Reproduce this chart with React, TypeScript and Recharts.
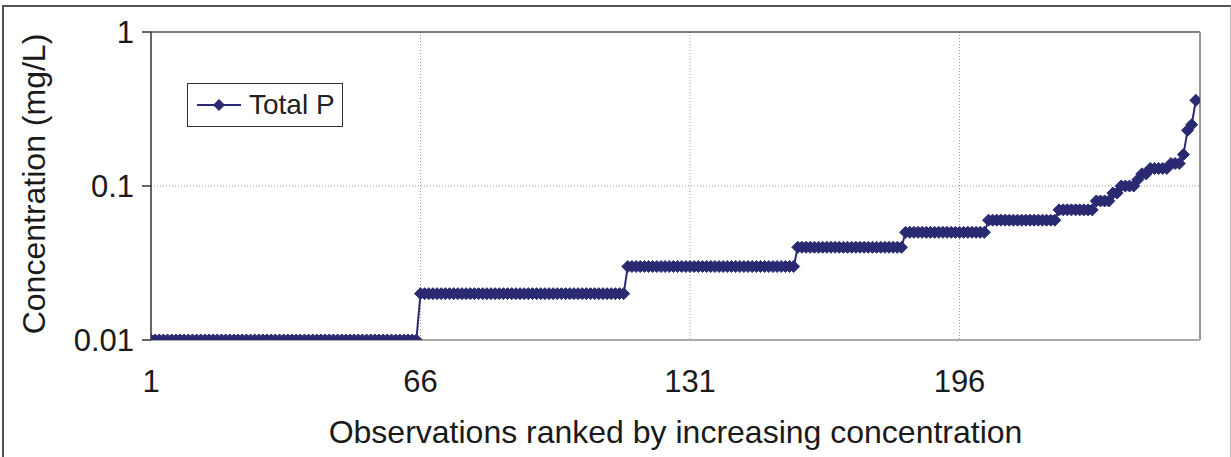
import React from "react";
import { LineChart, Line, XAxis, YAxis, CartesianGrid, ReferenceLine, Legend } from "recharts";

// Sorted Total P concentrations (mg/L), read as runs of equal values
const stepValues = [0.01, 0.02, 0.03, 0.04, 0.05, 0.06, 0.07, 0.08, 0.09, 0.1, 0.11, 0.12, 0.13, 0.14, 0.16, 0.23, 0.25, 0.36];
const stepCounts = [65, 50, 41, 26, 20, 17, 9, 4, 2, 4, 1, 2, 5, 3, 1, 1, 1, 1];

const xTicks = [1, 66, 131, 196];
const yTicks = [0.01, 0.1, 1];
const seriesName = "Total P";
const xTitle = "Observations ranked by increasing concentration";
const yTitle = "Concentration (mg/L)";

const data: { obs: number; tp: number }[] = [];
stepValues.forEach((v, i) => {
  for (let k = 0; k < stepCounts[i]; k++) data.push({ obs: data.length + 1, tp: v });
});

const NAVY = "#2a2a72";
const FONT = "'Liberation Sans', Arial, Helvetica, sans-serif";

const Diamond = (props: any) => {
  const { cx, cy } = props;
  if (cx == null || cy == null) return <g key={props.index} />;
  const r = 6;
  return (
    <path
      key={props.index}
      d={`M${cx},${cy - r} L${cx + r},${cy} L${cx},${cy + r} L${cx - r},${cy} Z`}
      fill={NAVY}
      stroke={NAVY}
      strokeWidth={1}
    />
  );
};

const LegendBox = () => (
  <div
    style={{
      width: 154,
      height: 42,
      border: "1px solid #333",
      background: "#fff",
      display: "flex",
      alignItems: "center",
      boxSizing: "content-box",
    }}
  >
    <svg width={56} height={20} style={{ marginLeft: 7 }}>
      <line x1={2} y1={10} x2={46} y2={10} stroke={NAVY} strokeWidth={2} />
      <path d="M24,4 L30,10 L24,16 L18,10 Z" fill={NAVY} />
    </svg>
    <span style={{ fontFamily: FONT, fontSize: 28, color: "#222", marginLeft: -2 }}>{seriesName}</span>
  </div>
);

export default function App() {
  return (
    <div style={{ position: "absolute", left: 0, top: 0, width: 1231, height: 457, background: "#fff", overflow: "hidden" }}>
      <div
        style={{
          position: "absolute",
          left: 2,
          top: 5,
          width: 1226,
          height: 450,
          borderTop: "2px solid #555",
          borderLeft: "2px solid #555",
          borderBottom: "2px solid #bbb",
          borderRight: "2px solid #bbb",
        }}
      />
      <LineChart width={1231} height={457} data={data} margin={{ top: 32, right: 31, bottom: 0, left: 0 }}>
        <CartesianGrid
          stroke="#999"
          strokeDasharray="1 2"
          horizontalValues={[0.1]}
          verticalValues={[66, 131, 196]}
        />
        <XAxis
          dataKey="obs"
          type="number"
          domain={[1, 254]}
          ticks={xTicks}
          height={117}
          tickLine={false}
          tickSize={0}
          tickMargin={30}
          axisLine={{ stroke: "#aaa", strokeWidth: 2 }}
          tick={{ fontFamily: FONT, fontSize: 31, fill: "#1a1a1a" }}
          allowDataOverflow
        />
        <YAxis
          dataKey="tp"
          scale="log"
          domain={[0.01, 1]}
          ticks={yTicks}
          width={151}
          tickSize={9}
          tickMargin={8}
          axisLine={{ stroke: "#333", strokeWidth: 1.5 }}
          tickLine={{ stroke: "#333", strokeWidth: 1.5 }}
          tick={{ fontFamily: FONT, fontSize: 31, fill: "#1a1a1a" }}
          allowDataOverflow
        />
        <ReferenceLine y={1} stroke="#555" strokeWidth={1.5} />
        <ReferenceLine x={254} stroke="#999" strokeWidth={2} />
        <Legend
          layout="vertical"
          align="center"
          verticalAlign="middle"
          content={() => <LegendBox />}
          wrapperStyle={{ position: "absolute", left: 187, top: 83, width: "auto" }}
        />
        <Line
          type="linear"
          dataKey="tp"
          name={seriesName}
          stroke={NAVY}
          strokeWidth={2}
          dot={(p: any) => <Diamond key={p.index} {...p} />}
          activeDot={false}
          isAnimationActive={false}
        />
      </LineChart>
      <div
        style={{
          position: "absolute",
          left: 151,
          width: 1049,
          top: 416,
          textAlign: "center",
          fontFamily: FONT,
          fontSize: 32,
          lineHeight: "32px",
          color: "#1a1a1a",
          whiteSpace: "nowrap",
        }}
      >
        {xTitle}
      </div>
      <div
        style={{
          position: "absolute",
          left: 34,
          top: 184,
          transform: "translate(-50%, -50%) rotate(-90deg)",
          fontFamily: FONT,
          fontSize: 32,
          lineHeight: "32px",
          color: "#1a1a1a",
          whiteSpace: "nowrap",
        }}
      >
        {yTitle}
      </div>
    </div>
  );
}
